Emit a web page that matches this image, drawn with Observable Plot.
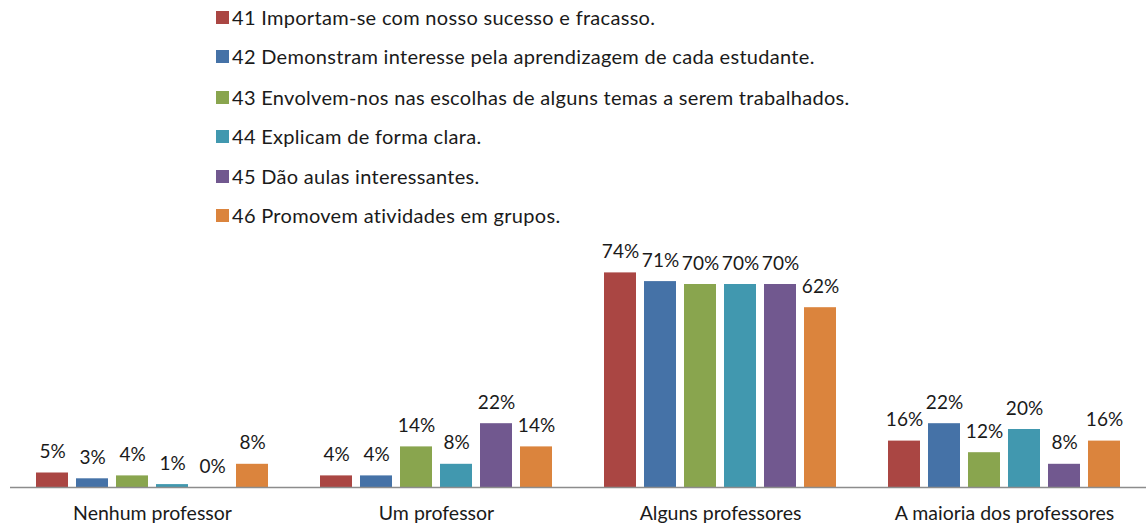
<!DOCTYPE html>
<html>
<head>
<meta charset="utf-8">
<script src="https://cdn.jsdelivr.net/npm/d3@7"></script>
<script src="https://cdn.jsdelivr.net/npm/@observablehq/plot@0.6"></script>
<style>
  html, body { margin: 0; padding: 0; background: #fff; }
  body { width: 1147px; height: 526px; overflow: hidden; font-family: Lato, "Open Sans", sans-serif; color: #1a1a1a; }
  #legend { position: relative; height: 232px; }
  .item { position: absolute; left: 216px; display: flex; align-items: center; font-size: 20px; letter-spacing: 0.3px; line-height: 22px; white-space: nowrap; }
  .sw { width: 13px; height: 13px; margin-right: 3px; flex: none; }
</style>
</head>
<body>
<div id="legend"></div>
<div id="chart"></div>
<script>
const categories = ["Nenhum professor", "Um professor", "Alguns professores", "A maioria dos professores"];
const series = [
  "41 Importam-se com nosso sucesso e fracasso.",
  "42 Demonstram interesse pela aprendizagem de cada estudante.",
  "43 Envolvem-nos nas escolhas de alguns temas a serem trabalhados.",
  "44 Explicam de forma clara.",
  "45 Dão aulas interessantes.",
  "46 Promovem atividades em grupos."
];
const colors = ["#AA4643", "#4572A7", "#89A54E", "#4198AF", "#71588F", "#DB843D"];
const s41 = [5, 4, 74, 16];
const s42 = [3, 4, 71, 22];
const s43 = [4, 14, 70, 12];
const s44 = [1, 8, 70, 20];
const s45 = [0, 22, 70, 8];
const s46 = [8, 14, 62, 16];
const seriesValues = [s41, s42, s43, s44, s45, s46];

// legend
const legend = document.getElementById("legend");
const rowCenters = [17, 56, 97, 136, 176, 215];
series.forEach((s, i) => {
  const d = document.createElement("div");
  d.className = "item";
  d.style.top = (rowCenters[i] - 11) + "px";
  d.innerHTML = `<span class="sw" style="background:${colors[i]}"></span><span>${s}</span>`;
  legend.appendChild(d);
});

const data = [];
categories.forEach((c, ci) => {
  series.forEach((s, si) => {
    data.push({category: c, series: s, value: seriesValues[si][ci]});
  });
});

const chart = Plot.plot({
  width: 1147,
  height: 294,
  marginLeft: 9,
  marginRight: 0,
  marginTop: 23,
  marginBottom: 39,
  style: {fontFamily: "Lato, 'Open Sans', sans-serif", fontSize: "19.5px", color: "#1a1a1a", background: "#fff"},
  fx: {domain: categories, paddingInner: 0, paddingOuter: 0, label: null, axis: "bottom", tickSize: 0, tickPadding: 19},
  x: {domain: series, paddingInner: 0.21, paddingOuter: 0.61, axis: null},
  y: {domain: [0, 80], axis: null},
  color: {domain: series, range: colors},
  marks: [
    Plot.barY(data, {fx: "category", x: "series", y: "value", fill: "series"}),
    Plot.ruleY([0], {stroke: "#8c8c8c", strokeWidth: 1.5}),
    Plot.text(data, {fx: "category", x: "series", y: "value", text: d => d.value + "%", dy: -21, fill: "#1a1a1a", fontSize: 19})
  ]
});
document.getElementById("chart").appendChild(chart);
</script>
</body>
</html>
